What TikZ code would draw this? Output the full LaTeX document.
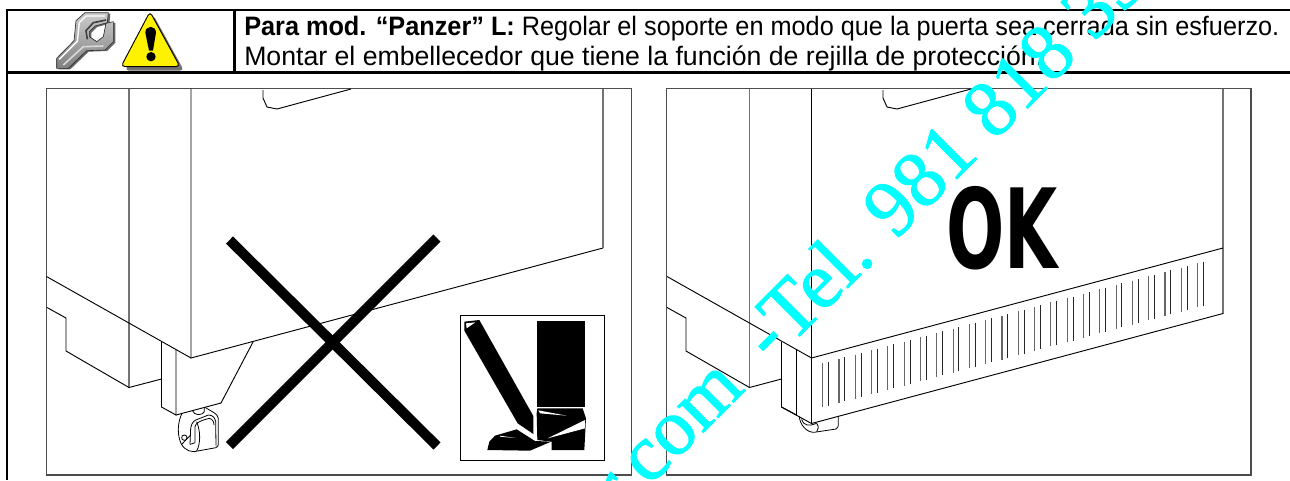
\documentclass[tikz,border=0pt]{standalone}
\usepackage{fontspec}
\setmainfont{Liberation Sans}
\newfontfamily\wmfont[FakeBold=1.2]{Liberation Serif}
\newfontfamily\okfont{DejaVu Sans}
\definecolor{wmcyan}{RGB}{0,255,255}
\tikzset{
  tablerule/.style={line width=1.6pt,black},
  panelframe/.style={line width=.8pt,black!70},
  ink/.style={line width=.7pt,black},
  grayink/.style={line width=.95pt,black!55},
  fineink/.style={line width=.6pt,black},
  bigx/.style={line width=7.5pt,black},
  caption/.style={anchor=base west,inner sep=0pt,font=\fontsize{20}{24}\selectfont},
  wmark/.style={anchor=base west,inner sep=0pt,text=wmcyan,rotate=45,font=\wmfont\fontsize{60}{70}\selectfont},
}
\begin{document}
\begin{tikzpicture}[x=.75pt,y=-.75pt]
\useasboundingbox (0,0) rectangle (1290,480);
\clip (0,0) rectangle (1290,480);
\fill[white] (0,0) rectangle (1290,480);
% table
\draw[tablerule] (1290,10) -- (7,10) -- (7,480);
\draw[tablerule] (6,72.5) -- (1290,72.5);
\draw[tablerule] (234.5,10) -- (234.5,72.5);
\node[caption,xscale=.948] (l1) at (244,35) {\textbf{Para mod. “Panzer” L:} Regolar el soporte en modo que la puerta sea cerrada sin esfuerzo.};
\node[caption] (l2) at (244,65.5) {Montar el embellecedor que tiene la función de rejilla de protección.};
% wrench icon
\begin{scope}[x=.25pt,y=-.25pt]
\fill[black!60] (176,178)--(228,125)--(234,65)--(261,41)--(331,41)--(328,71)--(291,81)--(274,98)--(274,113)--(296,128)--(316,113)--(324,73)--(346,68)--(346,128)--(321,153)--(266,155)--(211,208)--(176,208)--cycle;
\shade[top color=black!20,bottom color=black!50,draw=black!80,line width=.5pt] (170,175)--(222,122)--(228,62)--(255,38)--(325,38)--(322,68)--(285,78)--(268,95)--(268,110)--(290,125)--(310,110)--(318,70)--(340,65)--(340,125)--(315,150)--(260,152)--(205,205)--(170,205)--cycle;
\draw[white,line width=1pt] (178,178)--(232,124)--(238,68)--(258,48)--(315,48);
\draw[black!75,line width=1.2pt] (262,118)--(258,92)--(280,68)--(318,60);
\draw[black!15,line width=1.2pt] (190,195)--(250,140)--(310,138);
% warning triangle
\fill[black!55,rounded corners=3pt] (460,45)--(552,212)--(375,212)--cycle;
\fill[yellow,draw=black,line width=.7pt,rounded corners=3pt] (450,35)--(540,200)--(363,200)--cycle;
\fill[black] (436,98) .. controls (436,75) and (468,75) .. (468,98) -- (459,152) -- (447,152) -- cycle;
\fill[black] (453,170) circle (14);
\end{scope}
% left panel
\draw[panelframe] (46.5,88.5) rectangle (631.5,475);
\draw[grayink] (129,88.5) -- (129,387.5);
\draw[ink] (191,88.5) -- (191,358) -- (603,248);
\draw[grayink] (603,88.5) -- (603,248);
\draw[ink] (263,90) -- (263,98) -- (267,107) -- (277,109) -- (351,89);
\draw[ink] (46.5,276.5) -- (191,358);
\draw[ink] (47,307.5) -- (66,318) -- (66,351) -- (129,387.5) -- (161.5,379);
\draw[ink] (161.5,342) -- (161.5,407) -- (176,415) -- (176,350);
\draw[ink] (176,415) -- (221,403) -- (253,342);
% caster
\begin{scope}[shift={(40,280)},x=.25pt,y=-.25pt]
\draw[fineink] (425,402) .. controls (415,425) and (412,450) .. (418,475) .. controls (423,500) and (440,515) .. (462,515) -- (528,503) .. controls (535,500) and (535,495) .. (535,488) -- (535,415) .. controls (533,400) and (515,395) .. (495,382);
\draw[fineink] (450,493) -- (452,445) .. controls (455,425) and (465,420) .. (475,417) -- (505,405) .. controls (520,405) and (525,415) .. (527,425) -- (528,497);
\draw[fineink] (465,488) -- (465,440) .. controls (468,428) and (478,425) .. (490,420) -- (508,415) .. controls (518,418) and (522,425) .. (522,435);
\draw[fineink] (470,425) .. controls (482,455) and (482,490) .. (470,513);
\draw[fineink] (458,393) .. controls (462,407) and (488,407) .. (493,395) -- (493,383);
\draw[fineink] (425,493) -- (450,467);
\draw[fineink] (433,473) circle (8);
\draw[fineink] (450,493) -- (465,488);
\end{scope}
\draw[bigx] (229.5,240) -- (437,446);
\draw[bigx] (229.5,445.5) -- (437,238);
% boot pictogram
\draw[ink] (460,315.5) rectangle (604,460.5);
\begin{scope}[shift={(450,300)},x=.25pt,y=-.25pt]
\fill[black] (261,63) rectangle (405,322);
\fill[black] (43,92)--(43,65)--(88,60)--(250,348)--(250,402)--(203,370)--cycle;
\fill[white] (48,70)--(76,67)--(50,85)--cycle;
\fill[black] (112,450)--(118,425)--(135,407)--(200,388)--(255,423)--(303,425)--(240,452)--cycle;
\fill[black] (260,340)--(262,325)--(398,325)--(408,355)--(403,450)--(305,450)--(305,425)--(262,420)--cycle;
\fill[white] (265,331)--(350,347)--(270,340)--cycle;
\fill[white] (293,415)--(405,360)--(405,385)--cycle;
\fill[white] (150,407)--(197,414)--(150,410)--cycle;
\end{scope}
% right panel
\draw[panelframe] (666.7,88.5) rectangle (1251,475);
\draw[grayink] (749.5,88.5) -- (749.5,387.5);
\draw[ink] (811.5,88.5) -- (811.5,423.5);
\draw[grayink] (1223,88.5) -- (1223,313.5);
\draw[ink] (811.5,358) -- (1223,248);
\draw[ink] (811.5,423.5) -- (1223,313.5);
\draw[ink] (883,90) -- (883,98) -- (887,107) -- (897,109) -- (971,89);
\draw[ink] (667,276.5) -- (811.5,358);
\draw[ink] (667,307.5) -- (686,318) -- (686,351) -- (749.5,387.5) -- (781.5,379);
\draw[ink] (781.5,342) -- (781.5,407) -- (796.5,415) -- (796.5,350);
\draw[ink] (781.5,407) -- (811.5,423.5);
\begin{scope}[shift={(660,280)},x=.25pt,y=-.25pt]
\draw[fineink] (418,410) .. controls (420,435) and (440,457) .. (462,457) -- (528,447) .. controls (535,443) and (535,438) .. (535,432) -- (535,411);
\draw[fineink] (425,418) .. controls (432,440) and (450,438) .. (470,430);
\draw[fineink] (470,430) .. controls (477,440) and (476,448) .. (470,455);
\end{scope}
% grille slits
\foreach \i in {0,...,23}{
  \pgfmathsetmacro{\xa}{822.7+16.3*\i}
  \pgfmathsetmacro{\xb}{\xa+5.8}
  \pgfmathsetmacro{\ya}{363.4-.267*(\xa-822.7)}
  \pgfmathsetmacro{\yb}{361.8-.267*(\xb-828.5)}
  \draw[line width=.85pt,black!60] (\xa,\ya) -- (\xa,\ya+44);
  \draw[line width=.7pt,black!85] (\xb,\yb) -- (\xb,\yb+44);
}
% OK
\node[anchor=base west,inner sep=0pt,xscale=.62,font=\okfont\bfseries\fontsize{83}{90}\selectfont] (ok) at (946,268) {OK};
% watermark
\node[wmark] (wm) at (619,517) {r\kern-.06em.com\kern.21em{} -Tel. 981 818 35};
\end{tikzpicture}
\end{document}
